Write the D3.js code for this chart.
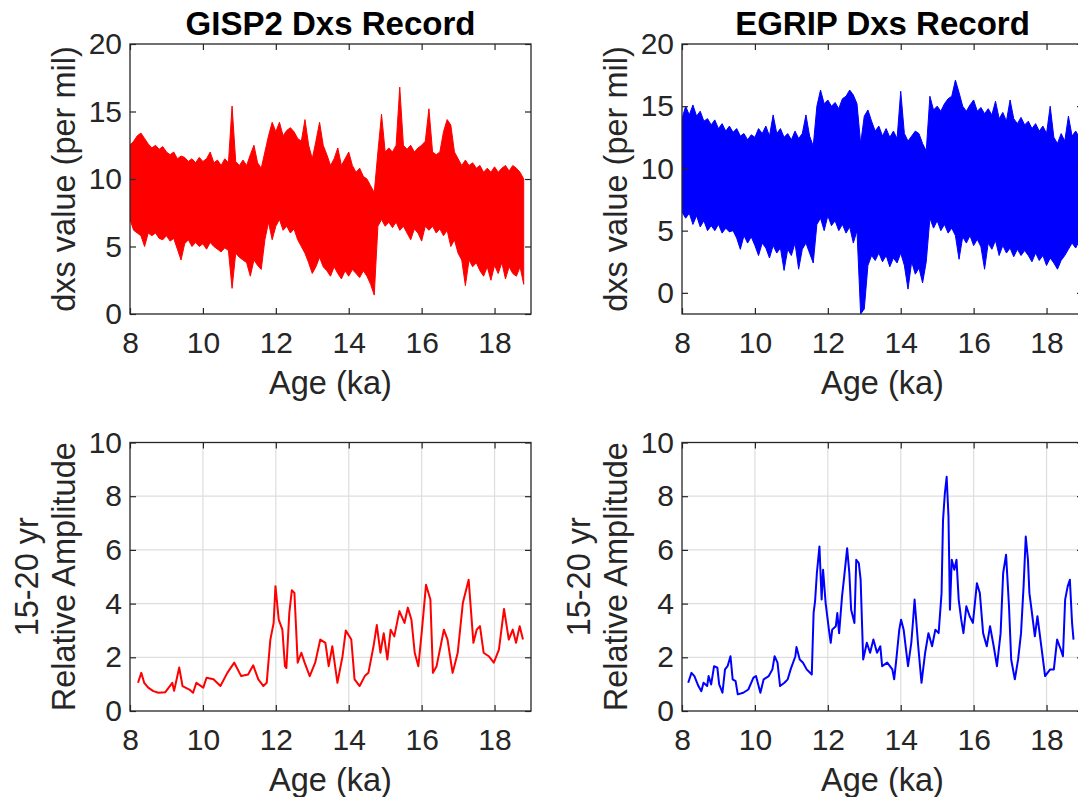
<!DOCTYPE html>
<html><head><meta charset="utf-8">
<script src="https://cdn.jsdelivr.net/npm/d3@7"></script>
<style>
body{margin:0;background:#fff}
svg{display:block}
text{font-family:"Liberation Sans",Arial,Helvetica,sans-serif}
</style>
</head><body>
<svg id="c" width="1078" height="797"></svg>
<script>
// ---------- data ----------
const xTicks = [8, 10, 12, 14, 16, 18];
const dxsTicks = [0, 5, 10, 15, 20];
const ampTicks = [0, 2, 4, 6, 8, 10];
const binStart = 8.0, binStep = 0.1;   // dxs records, 0.1 ka bins (upper / lower envelope)

const gispHi = [12.5,12.8,13.2,13.4,13.0,12.6,12.3,12.5,12.2,12.4,
 12.0,11.8,12.0,11.5,11.7,11.6,11.3,11.5,11.2,11.6,
 11.3,11.5,12.0,11.2,11.4,11.0,11.5,11.2,15.4,11.3,
 11.0,11.4,11.0,11.8,12.5,11.2,10.8,12.0,13.2,14.2,
 13.5,14.2,13.2,13.6,13.8,13.5,13.0,12.8,14.4,12.5,
 11.5,12.8,14.2,12.5,11.8,11.0,11.5,12.3,11.0,11.5,
 12.0,11.0,10.5,10.8,10.2,10.0,9.5,9.0,12.0,14.8,
 12.0,12.3,12.0,12.5,16.8,12.5,12.2,12.5,12.0,12.3,
 12.5,12.8,15.2,12.0,11.8,12.0,13.5,14.4,14.0,12.0,
 11.5,11.0,11.4,11.0,11.2,10.8,11.0,10.5,10.8,10.5,
 10.9,10.5,10.8,11.0,10.6,11.0,10.8,10.5,10.0];
const gispLo = [7.0,6.2,6.0,5.8,5.0,6.0,5.8,6.0,5.6,5.5,
 5.8,5.4,5.6,4.8,4.0,5.2,5.5,5.0,5.3,5.0,
 5.2,4.8,5.3,5.0,4.8,4.6,4.9,4.7,1.9,4.5,
 4.2,4.0,3.8,2.8,4.0,3.6,3.3,5.5,6.8,5.5,
 6.5,7.0,6.2,6.5,6.0,6.3,5.5,5.0,4.5,3.8,
 3.0,3.5,4.2,3.5,3.2,2.8,3.5,3.0,2.6,3.2,
 2.8,3.3,3.0,2.7,3.2,2.8,2.2,1.4,6.5,7.0,
 6.5,6.8,6.4,6.8,6.2,6.5,6.0,5.5,6.3,6.0,
 5.4,6.5,6.2,6.5,6.0,6.3,5.8,6.2,5.0,5.5,
 4.5,4.0,2.1,4.0,3.5,3.8,3.2,2.8,3.5,2.5,
 3.6,3.0,3.8,2.6,3.5,3.0,2.8,3.5,2.2];

const egripHi = [14.0,15.0,14.3,15.1,14.2,14.6,13.8,14.0,13.5,13.9,
 13.2,13.6,13.0,13.4,12.9,13.2,12.6,12.8,12.3,12.7,
 12.5,13.2,12.8,13.4,12.6,14.3,12.8,13.2,12.5,12.8,
 12.3,13.0,12.4,12.8,14.3,12.6,11.8,15.0,16.3,15.2,
 15.5,15.0,15.3,14.8,15.6,15.8,16.3,15.9,15.2,12.0,
 14.2,14.7,13.8,13.0,13.4,12.6,13.2,12.5,13.0,12.4,
 16.2,12.8,12.2,12.6,13.0,12.8,12.0,11.4,15.8,14.7,
 15.0,14.6,15.2,15.6,15.8,17.1,16.1,15.0,14.6,15.1,
 15.5,14.6,14.9,14.4,14.8,14.3,15.4,14.0,14.5,13.8,
 15.5,14.0,13.6,14.1,13.5,13.8,13.2,13.6,13.0,13.4,
 12.8,15.0,12.5,12.0,12.8,12.2,14.2,12.6,13.0,12.5];
const egripLo = [6.5,6.0,6.4,5.5,6.2,5.3,5.8,5.0,5.4,5.0,
 5.5,4.8,5.2,4.9,5.0,4.4,3.5,4.6,4.0,4.5,
 3.8,3.0,4.0,3.6,2.8,3.8,3.2,3.6,1.8,3.5,
 3.0,4.0,1.9,3.5,4.0,3.2,2.4,5.5,6.0,5.0,
 6.2,5.4,5.8,5.0,5.5,4.8,5.3,4.0,5.0,-1.7,
 -1.3,2.2,3.0,2.6,3.2,2.5,3.0,2.1,2.8,2.4,
 3.2,2.2,0.3,2.5,1.5,2.0,0.8,2.5,6.0,5.2,
 5.8,5.0,5.5,4.8,5.2,4.6,2.7,4.5,4.0,4.6,
 3.8,4.3,3.7,1.9,4.0,3.5,4.2,3.0,3.8,3.2,
 3.6,2.9,3.5,3.0,3.4,3.0,2.5,3.2,2.6,3.0,
 2.2,2.8,2.4,1.9,2.6,3.0,3.5,4.0,3.6,4.2];

const gispAmpAge = [8.22,8.31,8.39,8.50,8.64,8.78,8.97,9.16,9.21,9.35,9.44,9.63,9.73,9.82,10.01,10.10,10.29,10.48,10.67,10.86,
 11.05,11.24,11.38,11.52,11.66,11.75,11.85,11.94,11.99,12.08,12.18,12.25,12.29,12.37,12.44,12.51,12.60,12.70,12.79,12.93,
 13.08,13.22,13.36,13.45,13.55,13.69,13.83,13.92,14.07,14.16,14.30,14.44,14.54,14.68,14.77,14.87,14.96,15.06,15.15,15.25,
 15.39,15.53,15.62,15.72,15.81,15.91,16.00,16.12,16.24,16.31,16.41,16.52,16.61,16.71,16.85,16.99,17.13,17.29,17.42,17.51,
 17.60,17.70,17.84,17.98,18.12,18.26,18.39,18.50,18.59,18.69,18.78];
const gispAmp = [1.05,1.42,1.05,0.87,0.74,0.68,0.70,1.05,0.75,1.62,0.93,0.80,0.68,1.05,0.87,1.24,1.18,0.93,1.42,1.80,
 1.30,1.36,1.70,1.18,0.93,1.05,2.66,3.28,4.65,3.40,3.03,1.67,1.60,3.65,4.50,4.40,1.80,2.17,1.80,1.30,
 1.80,2.66,2.54,1.67,2.41,1.05,2.04,3.00,2.66,1.18,0.93,1.30,1.42,2.41,3.20,2.17,2.90,1.92,3.03,2.78,
 3.72,3.28,3.85,3.40,2.17,1.67,2.90,4.70,4.15,1.42,1.67,2.41,3.03,2.66,1.42,2.17,4.02,4.89,2.54,3.03,
 3.16,2.17,2.04,1.80,2.29,3.80,2.66,3.03,2.54,3.16,2.66];

const egripAmpAge = [8.17,8.26,8.34,8.45,8.53,8.59,8.69,8.73,8.80,8.88,8.97,9.02,9.11,9.18,9.25,9.33,9.39,9.47,9.53,9.68,
 9.82,9.96,10.03,10.15,10.24,10.38,10.48,10.54,10.62,10.69,10.81,10.90,10.98,11.11,11.14,11.23,11.32,11.42,11.56,11.61,
 11.65,11.70,11.77,11.83,11.87,11.94,12.03,12.08,12.12,12.22,12.26,12.31,12.39,12.45,12.53,12.59,12.64,12.73,12.78,12.85,
 12.90,12.97,13.07,13.16,13.25,13.35,13.44,13.49,13.63,13.77,13.82,13.87,13.96,14.01,14.08,14.20,14.29,14.34,14.38,14.48,
 14.57,14.67,14.76,14.86,14.95,15.04,15.12,15.16,15.21,15.26,15.31,15.35,15.40,15.47,15.53,15.59,15.66,15.72,15.80,15.89,
 15.98,16.09,16.17,16.26,16.36,16.45,16.55,16.64,16.74,16.81,16.89,16.97,17.03,17.13,17.22,17.30,17.37,17.43,17.49,17.53,
 17.60,17.68,17.75,17.81,17.96,18.10,18.20,18.29,18.39,18.45,18.51,18.58,18.64,18.70,18.74];
const egripAmp = [1.05,1.42,1.30,0.93,0.74,1.05,0.93,1.30,0.99,1.67,1.61,0.99,0.68,1.55,1.67,2.04,1.18,1.11,0.62,0.68,
 0.80,1.24,1.30,0.68,1.18,1.30,1.55,2.04,1.80,0.93,1.05,1.18,1.55,2.04,2.38,1.92,1.80,1.55,1.36,3.65,
 4.08,5.14,6.13,4.15,5.26,4.02,3.03,2.54,3.03,3.16,3.65,2.90,4.27,5.01,6.06,5.14,3.77,3.28,5.63,5.51,
 4.89,1.92,2.54,2.17,2.66,2.17,2.41,1.67,1.80,1.55,1.18,1.80,3.03,3.40,3.03,1.67,2.54,3.40,4.15,2.41,
 1.05,2.17,2.90,2.41,3.03,2.90,4.39,7.10,8.10,8.72,7.24,3.77,5.63,5.26,5.63,4.15,3.40,2.90,3.90,3.53,
 3.28,4.76,4.39,2.90,2.41,3.16,2.41,1.67,2.90,5.14,5.82,3.90,1.92,1.18,1.92,2.90,4.64,6.50,5.63,4.39,
 3.65,2.78,3.53,2.90,1.30,1.55,1.55,2.66,2.29,2.04,4.15,4.64,4.89,3.28,2.66];

// ---------- drawing ----------
const svg = d3.select("#c");
const AX = "#262626";
const TICK_FS = 30, LAB_FS = 32.5, TITLE_FS = 33;

function panel(o) {
  const g = svg.append("g").attr("transform", `translate(${o.left},${o.top})`);
  const x = d3.scaleLinear().domain([8, 19]).range([0, o.w]);
  const y = d3.scaleLinear().domain(o.yDomain).range([o.h, 0]);
  const id = "clip" + o.id;
  svg.append("defs").append("clipPath").attr("id", id)
    .append("rect").attr("width", o.w).attr("height", o.h);

  if (o.grid) {
    const gg = g.append("g");
    gg.selectAll("line.gx").data(xTicks.filter(t => t > 8)).join("line")
      .attr("x1", d => x(d)).attr("x2", d => x(d)).attr("y1", 0).attr("y2", o.h)
      .attr("stroke", "#dedede").attr("stroke-width", 1.2);
    gg.selectAll("line.gy").data(o.yTicks.filter(t => t > o.yDomain[0] && t < o.yDomain[1])).join("line")
      .attr("x1", 0).attr("x2", o.w).attr("y1", d => y(d)).attr("y2", d => y(d))
      .attr("stroke", "#dedede").attr("stroke-width", 1.2);
  }

  const plot = g.append("g").attr("clip-path", `url(#${id})`);
  o.draw(plot, x, y);

  const styleAxis = sel => {
    sel.select(".domain").remove();
    sel.selectAll(".tick line").attr("stroke", AX).attr("stroke-width", 1.2);
    sel.selectAll(".tick text").attr("fill", AX).attr("font-size", TICK_FS)
      .attr("font-family", '"Liberation Sans",Arial,sans-serif');
  };
  g.append("g").attr("transform", `translate(0,${o.h})`)
    .call(d3.axisBottom(x).tickValues(xTicks).tickSizeInner(-6).tickSizeOuter(0).tickPadding(18).tickFormat(d3.format("d")))
    .call(styleAxis);
  g.append("g")
    .call(d3.axisTop(x).tickValues(xTicks).tickSizeInner(-6).tickSizeOuter(0).tickFormat(""))
    .call(styleAxis);
  g.append("g")
    .call(d3.axisLeft(y).tickValues(o.yTicks).tickSizeInner(-6).tickSizeOuter(0).tickPadding(8).tickFormat(d3.format("d")))
    .call(styleAxis);
  g.append("g").attr("transform", `translate(${o.w},0)`)
    .call(d3.axisRight(y).tickValues(o.yTicks).tickSizeInner(-6).tickSizeOuter(0).tickFormat(""))
    .call(styleAxis);

  g.append("rect").attr("width", o.w).attr("height", o.h)
    .attr("fill", "none").attr("stroke", AX).attr("stroke-width", 1.3);

  g.append("text").attr("x", o.w / 2).attr("y", o.h + 80)
    .attr("text-anchor", "middle").attr("font-size", LAB_FS).attr("fill", AX).text("Age (ka)");
  o.yLabel.forEach((t, i) => {
    const bx = -55 - (o.yLabel.length - 1 - i) * 37;
    g.append("text").attr("transform", `translate(${bx},${o.h / 2}) rotate(-90)`)
      .attr("text-anchor", "middle").attr("font-size", LAB_FS).attr("fill", AX).text(t);
  });
  if (o.title) {
    g.append("text").attr("x", o.w / 2).attr("y", -9)
      .attr("text-anchor", "middle").attr("font-size", TITLE_FS).attr("font-weight", "bold")
      .attr("fill", "#000").text(o.title);
  }
}

function drawBand(hi, lo, color) {
  return (plot, x, y) => {
    const pts = hi.map((h, i) => ({ a: binStart + i * binStep, hi: h, lo: lo[i] }));
    plot.append("path").datum(pts)
      .attr("d", d3.area().x(d => x(d.a)).y0(d => y(d.lo)).y1(d => y(d.hi)))
      .attr("fill", color).attr("stroke", color).attr("stroke-width", 1).attr("stroke-linejoin", "round");
  };
}
function drawCurve(ages, vals, color) {
  return (plot, x, y) => {
    plot.append("path").datum(ages.map((a, i) => [a, vals[i]]))
      .attr("d", d3.line().x(d => x(d[0])).y(d => y(d[1])))
      .attr("fill", "none").attr("stroke", color).attr("stroke-width", 2).attr("stroke-linejoin", "round");
  };
}

panel({ id: "tl", left: 130, top: 44, w: 401, h: 270, yDomain: [0, 20], yTicks: dxsTicks,
  title: "GISP2 Dxs Record", yLabel: ["dxs value (per mil)"], draw: drawBand(gispHi, gispLo, "#ff0000") });
panel({ id: "tr", left: 682, top: 44, w: 401, h: 270, yDomain: [-1.7, 20], yTicks: dxsTicks,
  title: "EGRIP Dxs Record", yLabel: ["dxs value (per mil)"], draw: drawBand(egripHi, egripLo, "#0000ff") });
panel({ id: "bl", left: 130, top: 442.5, w: 401, h: 268.5, yDomain: [0, 10], yTicks: ampTicks, grid: true,
  yLabel: ["15-20 yr", "Relative Amplitude"], draw: drawCurve(gispAmpAge, gispAmp, "#ff0000") });
panel({ id: "br", left: 682, top: 442.5, w: 401, h: 268.5, yDomain: [0, 10], yTicks: ampTicks, grid: true,
  yLabel: ["15-20 yr", "Relative Amplitude"], draw: drawCurve(egripAmpAge, egripAmp, "#0000ff") });
</script>
</body></html>
